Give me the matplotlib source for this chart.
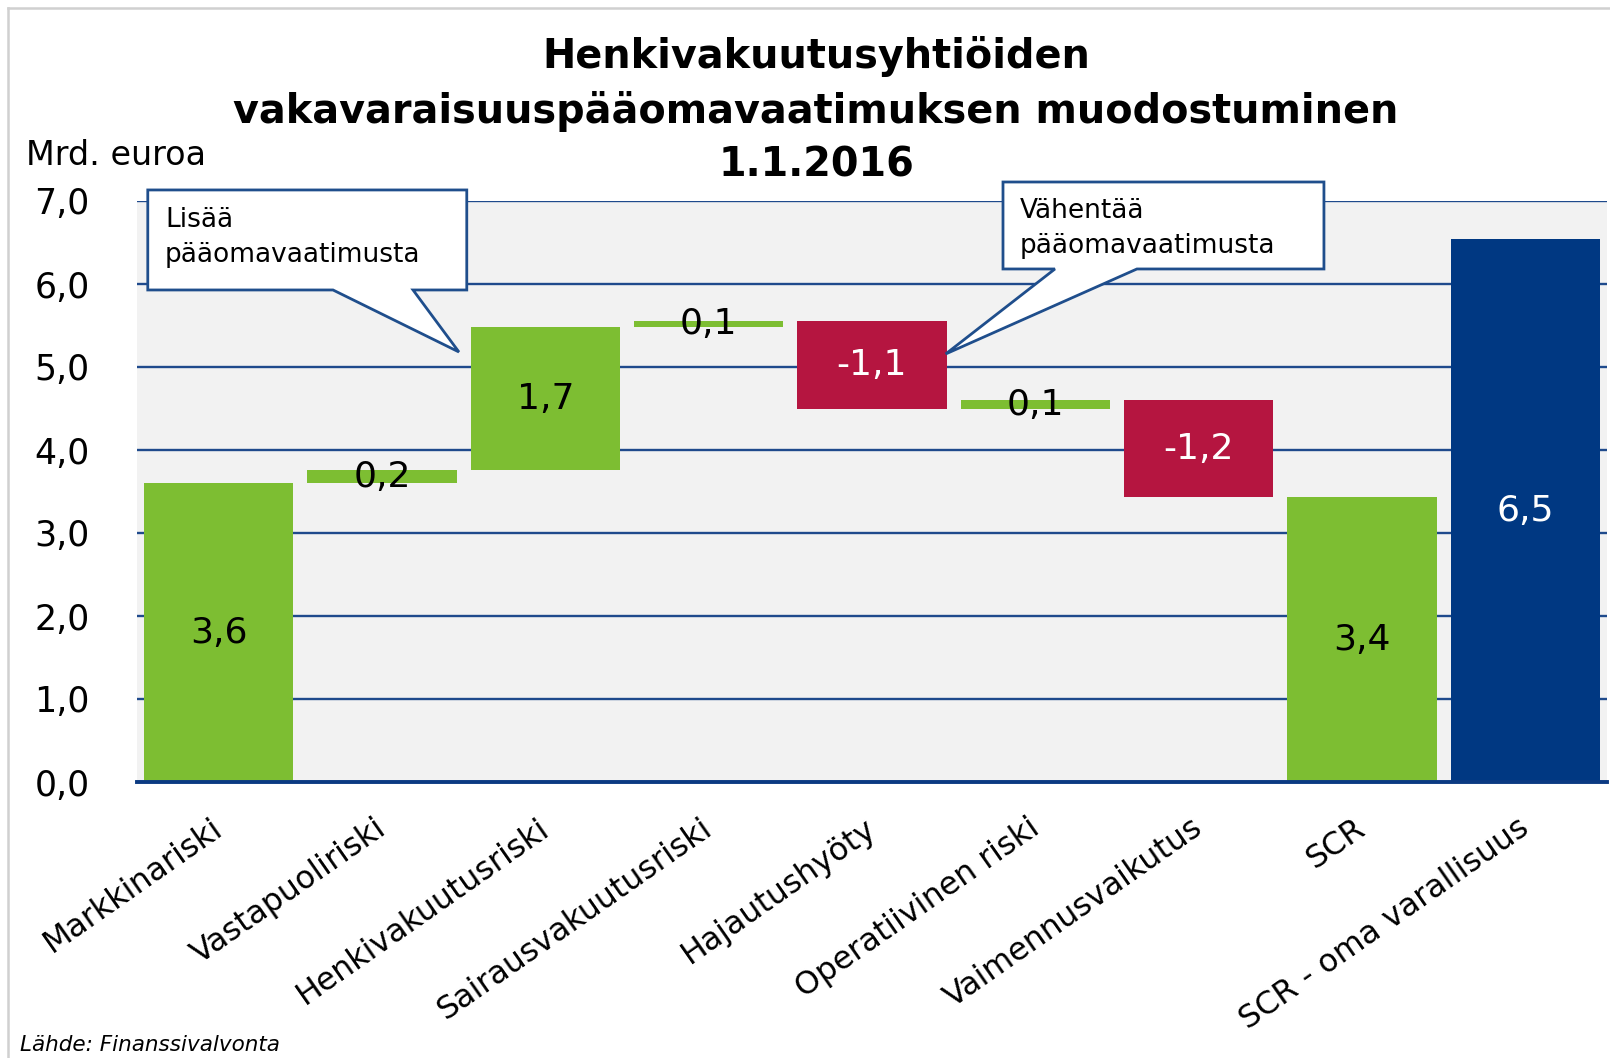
import matplotlib
matplotlib.use('Agg')
import matplotlib.pyplot as plt
import matplotlib.transforms as mtransforms
from matplotlib.patches import Polygon
from matplotlib.lines import Line2D
import numpy as np

# data (Mrd. euroa)
categories = ['Markkinariski', 'Vastapuoliriski', 'Henkivakuutusriski',
              'Sairausvakuutusriski', 'Hajautushyöty', 'Operatiivinen riski',
              'Vaimennusvaikutus', 'SCR', 'SCR - oma varallisuus']
steps = [3.60, 0.16, 1.72, 0.08, -1.07, 0.11, -1.17]
scr = 3.43
own_funds = 6.54
yticks = [0, 1, 2, 3, 4, 5, 6, 7]

GREEN = '#7DBE32'
RED = '#B51540'
NAVY = '#003882'
GRID = '#1F4A8C'

def fmt(v):
    return f"{v:.1f}".replace('.', ',')

# waterfall geometry
cum = np.cumsum([0] + steps)
bottoms = list(np.minimum(cum[:-1], cum[1:])) + [0, 0]
heights = list(np.abs(steps)) + [scr, own_funds]
values = steps + [scr, own_funds]
colors = [GREEN if v > 0 else RED for v in steps] + [GREEN, NAVY]
txtcol = ['black' if c == GREEN else 'white' for c in colors]

fig = plt.figure(figsize=(16.1, 10.58), dpi=100)
W, H = 1610, 1058
ax = fig.add_axes([137 / W, 1 - 782 / H, 1470 / W, 581 / H])
ax.set_facecolor('#F2F2F2')

x = np.arange(len(categories))
ax.bar(x, heights, bottom=bottoms, width=0.915, color=colors, zorder=2)
for xi, b, h, v, tc in zip(x, bottoms, heights, values, txtcol):
    ax.text(xi, b + h / 2, fmt(v), ha='center', va='center', fontsize=26,
            color=tc, zorder=5)

ax.set_xlim(-0.5, len(categories) - 0.5)
ax.set_ylim(0, 7)
ax.set_yticks(yticks)
ax.set_yticklabels([fmt(v) for v in yticks], fontsize=25)
ax.yaxis.grid(True, color=GRID, lw=1.7, zorder=1)
ax.set_axisbelow(True)
for s in ['top', 'right', 'left']:
    ax.spines[s].set_visible(False)
ax.spines['bottom'].set_color('#0B3A82')
ax.spines['bottom'].set_linewidth(2.8)
ax.spines['bottom'].set_zorder(3)
ax.tick_params(axis='y', length=0, pad=34)
ax.tick_params(axis='x', length=0, pad=22)

ax.set_xticks(x)
ax.set_xticklabels(categories, rotation=35, ha='right', va='top',
                   rotation_mode='anchor', fontsize=22.8)
off = mtransforms.ScaledTranslation(-0.08, 0, fig.dpi_scale_trans)
for lab in ax.get_xticklabels():
    lab.set_transform(lab.get_transform() + off)

# callouts (data coordinates)
def callout(box, base, tip, lines, tx, tys):
    l, r, t, b = box
    pts = [(l, t), (r, t), (r, b), (base[1], b), tip, (base[0], b), (l, b)]
    ax.add_patch(Polygon(pts, closed=True, facecolor='white', edgecolor='#1F4E8C',
                         lw=2, clip_on=False, zorder=6, joinstyle='miter'))
    for s, ty in zip(lines, tys):
        ax.text(tx, ty, s, fontsize=19, ha='left', va='baseline', zorder=7,
                clip_on=False)

callout((-0.434, 1.519, 7.133, 5.928), (0.700, 1.190), (1.471, 5.181),
        ['Lisää', 'pääomavaatimusta'], -0.329, [6.690, 6.269])
callout((4.802, 6.767, 7.229, 6.181), (5.120, 5.622), (4.451, 5.157),
        ['Vähentää', 'pääomavaatimusta'], 4.906, [6.792, 6.370])

# title and texts
title = ['Henkivakuutusyhtiöiden',
         'vakavaraisuuspääomavaatimuksen muodostuminen',
         '1.1.2016']
for t, yb in zip(title, [68, 123, 177]):
    fig.text(816 / W, 1 - yb / H, t, ha='center', va='baseline',
             fontsize=28.6, fontweight='bold')
fig.text(26 / W, 1 - 165 / H, 'Mrd. euroa', ha='left', va='baseline', fontsize=24)
fig.text(20 / W, 1 - 1051 / H, 'Lähde: Finanssivalvonta', ha='left', va='baseline',
         fontsize=15.5, style='italic')

# light frame at left and top
fig.add_artist(Line2D([7.5 / W, 7.5 / W], [0, 1 - 7.5 / H], color='#D0D0D0', lw=1.8))
fig.add_artist(Line2D([7.5 / W, 1], [1 - 7.5 / H, 1 - 7.5 / H], color='#D0D0D0', lw=1.8))

fig.savefig('out.png', dpi=100)
